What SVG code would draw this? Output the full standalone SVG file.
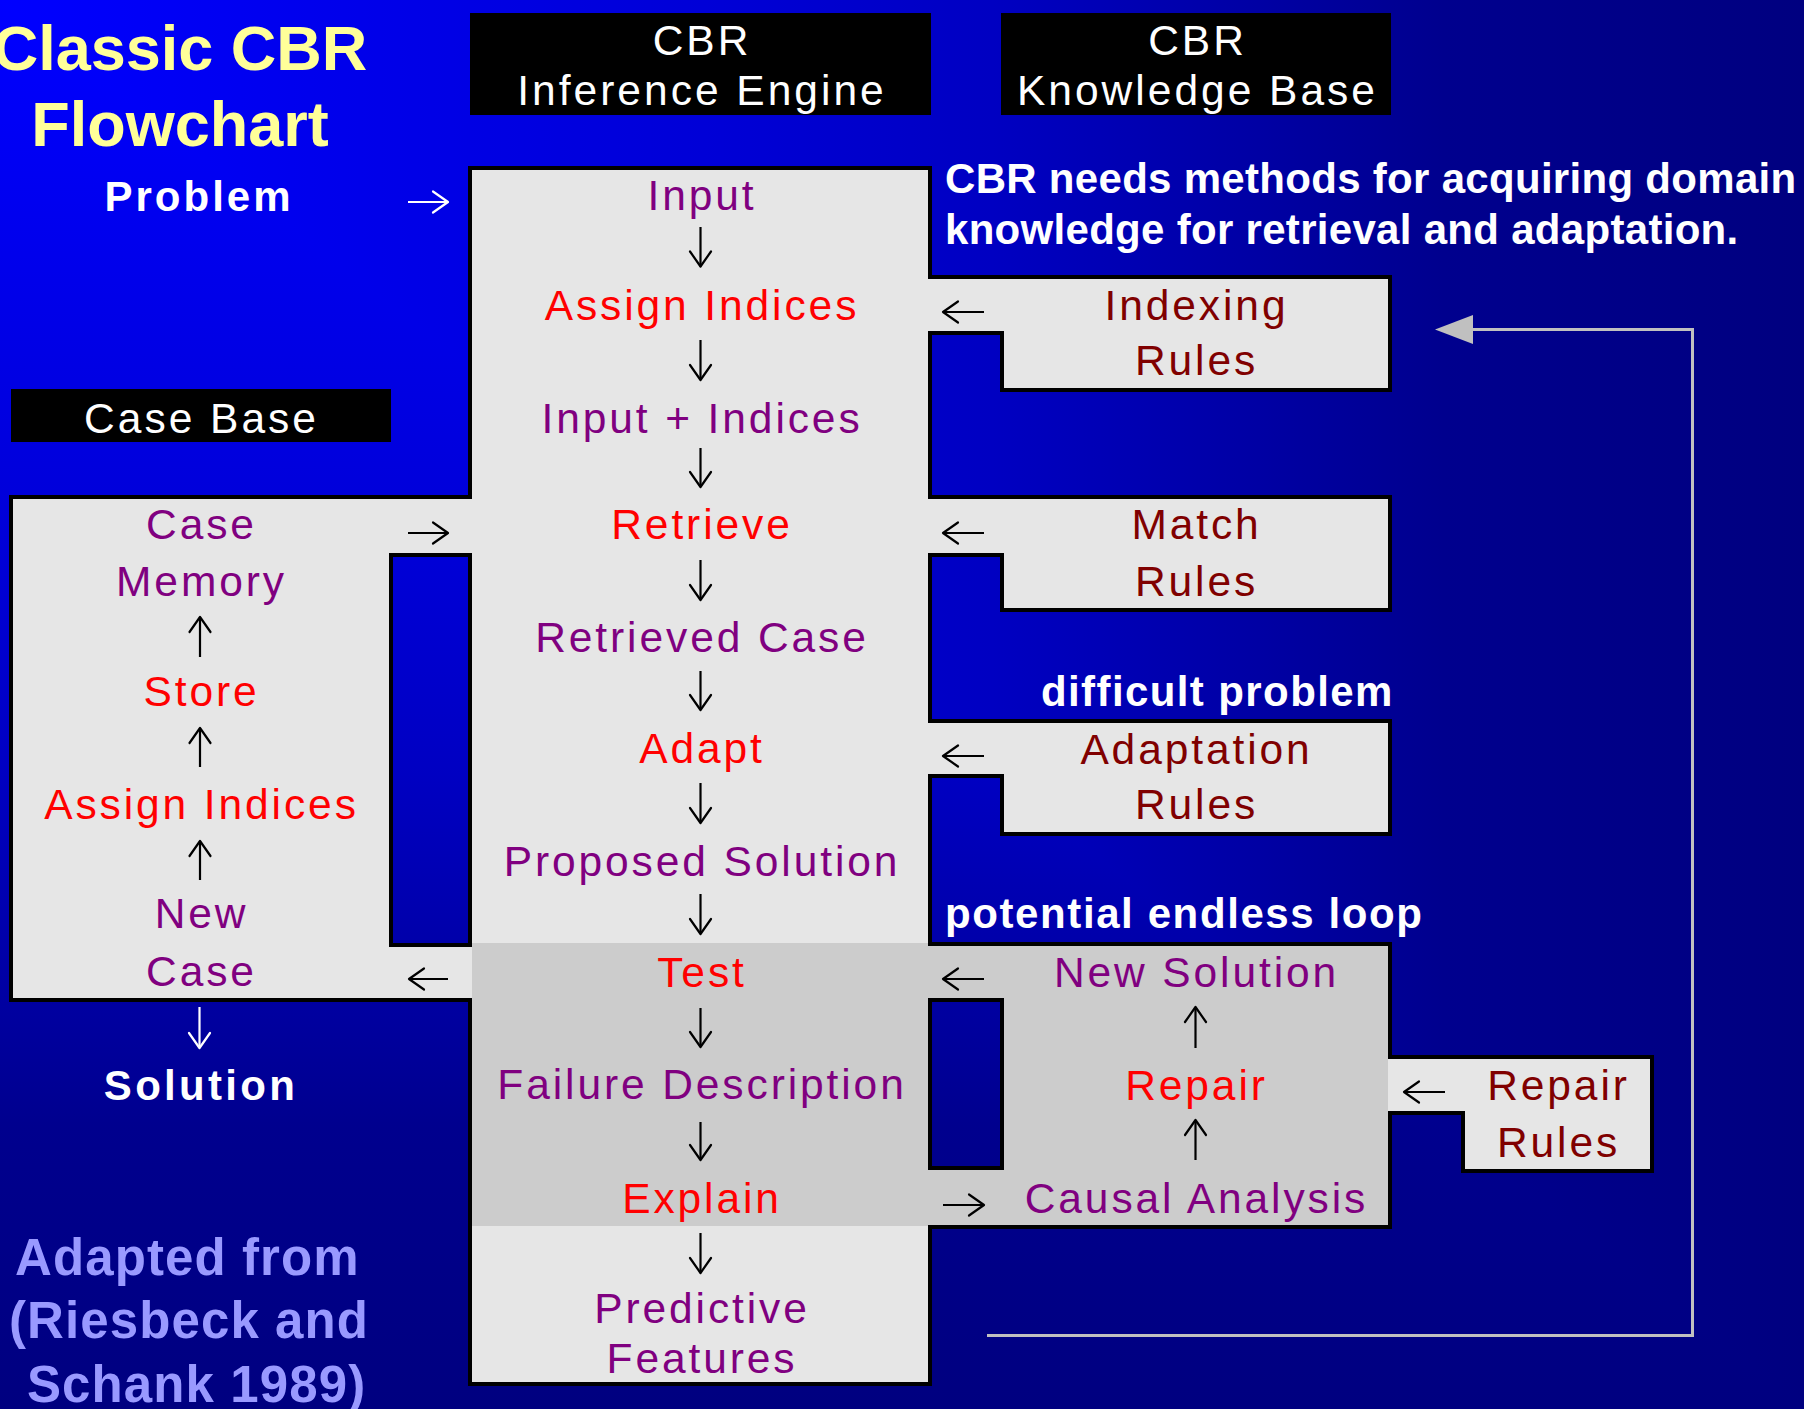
<svg xmlns="http://www.w3.org/2000/svg" width="1804" height="1409" viewBox="0 0 1804 1409">
<defs>
<linearGradient id="bgv" gradientUnits="userSpaceOnUse" x1="0" y1="0" x2="0" y2="1409">
<stop offset="0" stop-color="#0000FF"/>
<stop offset="0.2" stop-color="#0000EA"/>
<stop offset="0.4" stop-color="#0000D6"/>
<stop offset="0.55" stop-color="#0000C2"/>
<stop offset="0.65" stop-color="#0000AE"/>
<stop offset="0.8" stop-color="#00008E"/>
<stop offset="1" stop-color="#000080"/>
</linearGradient>
<linearGradient id="bgh" gradientUnits="userSpaceOnUse" x1="0" y1="0" x2="1804" y2="0">
<stop offset="0" stop-color="#0000FF"/>
<stop offset="0.2" stop-color="#0000EA"/>
<stop offset="0.4" stop-color="#0000D6"/>
<stop offset="0.55" stop-color="#0000C2"/>
<stop offset="0.65" stop-color="#0000AE"/>
<stop offset="0.8" stop-color="#00008E"/>
<stop offset="1" stop-color="#000080"/>
</linearGradient>
<marker id="ah" markerUnits="userSpaceOnUse" orient="auto" markerWidth="24" markerHeight="28" viewBox="-19 -14 24 28" refX="0" refY="0" overflow="visible">
<path d="M-15,-10.5 L0,0 L-15,10.5" fill="none" stroke="#000" stroke-width="2.2" stroke-linejoin="round" stroke-linecap="round"/>
</marker>
<marker id="ahw" markerUnits="userSpaceOnUse" orient="auto" markerWidth="24" markerHeight="28" viewBox="-19 -14 24 28" refX="0" refY="0" overflow="visible">
<path d="M-15,-10.5 L0,0 L-15,10.5" fill="none" stroke="#FFF" stroke-width="2.2" stroke-linejoin="round" stroke-linecap="round"/>
</marker>
<style>
text { font-family: "Liberation Sans", Arial, Helvetica, sans-serif; }
.bx { stroke: #000; stroke-width: 4; }
.lg { fill: #E6E6E6; }
.dg { fill: #CCCCCC; }
.hdbox { fill: #000; }
.t40 { font-size: 42.5px; letter-spacing: 2.9px; text-anchor: middle; }
.pu { fill: #800080; }
.rd { fill: #FF0000; }
.mr { fill: #800000; }
.hd { font-size: 42.5px; letter-spacing: 3px; fill: #FFF; text-anchor: middle; }
.wb { font-weight: bold; fill: #FFF; font-size: 42px; }
.ttl { font-weight: bold; fill: #FFFF99; font-size: 63px; text-anchor: middle; }
.src { font-weight: bold; fill: #9999FF; font-size: 51px; letter-spacing: 1.1px; }
.ar { fill: none; stroke: #000; stroke-width: 2.2; marker-end: url(#ah); }
.arw { fill: none; stroke: #FFF; stroke-width: 2.2; marker-end: url(#ahw); }
.fb { fill: none; stroke: #C0C0C0; stroke-width: 3; }
</style>
</defs>

<g id="background">
<rect x="0" y="0" width="1804" height="1409" fill="url(#bgv)"/>
<polygon points="0,0 1804,0 1804,1409" fill="url(#bgh)"/>
</g>

<g id="title">
<text class="ttl" x="180" y="70">Classic CBR</text>
<text class="ttl" x="180" y="146">Flowchart</text>
</g>

<g id="header-inference-engine">
<rect class="hdbox" x="470" y="13" width="461" height="102"/>
<text class="hd" x="702" y="55">CBR</text>
<text class="hd" x="702" y="105">Inference Engine</text>
</g>

<g id="header-knowledge-base">
<rect class="hdbox" x="1001" y="13" width="390" height="102"/>
<text class="hd" x="1197.5" y="55">CBR</text>
<text class="hd" x="1197.5" y="105">Knowledge Base</text>
</g>

<g id="header-case-base">
<rect class="hdbox" x="11" y="389" width="380" height="53"/>
<text class="hd" x="201.5" y="433">Case Base</text>
</g>

<g id="problem">
<text class="wb" x="199" y="211" text-anchor="middle" style="letter-spacing:3px">Problem</text>
</g>

<g id="solution">
<text class="wb" x="201" y="1100" text-anchor="middle" style="letter-spacing:3.3px">Solution</text>
</g>

<g id="note-knowledge">
<text class="wb" x="945" y="193" style="letter-spacing:0.3px">CBR needs methods for acquiring domain</text>
<text class="wb" x="945" y="244" style="letter-spacing:0.3px">knowledge for retrieval and adaptation.</text>
</g>

<g id="note-difficult">
<text class="wb" x="1041" y="706" style="letter-spacing:1.4px">difficult problem</text>
</g>

<g id="note-loop">
<text class="wb" x="945" y="928" style="letter-spacing:1.6px">potential endless loop</text>
</g>

<g id="source">
<text class="src" x="15" y="1275">Adapted from</text>
<text class="src" x="9" y="1338">(Riesbeck and</text>
<text class="src" x="27" y="1402">Schank 1989)</text>
</g>

<g id="inference-engine">
<rect class="bx lg" x="470" y="168" width="460" height="1216"/>
<rect class="dg" x="472" y="943" width="456" height="283"/>
<g id="step-input"><text class="t40 pu" x="702" y="210">Input</text></g>
<g id="step-assign-indices"><text class="t40 rd" x="702" y="320">Assign Indices</text></g>
<g id="step-input-indices"><text class="t40 pu" x="702" y="433">Input + Indices</text></g>
<g id="step-retrieve"><text class="t40 rd" x="702" y="539">Retrieve</text></g>
<g id="step-retrieved-case"><text class="t40 pu" x="702" y="652">Retrieved Case</text></g>
<g id="step-adapt"><text class="t40 rd" x="702" y="763">Adapt</text></g>
<g id="step-proposed-solution"><text class="t40 pu" x="702" y="876">Proposed Solution</text></g>
<g id="step-test"><text class="t40 rd" x="702" y="987">Test</text></g>
<g id="step-failure-description"><text class="t40 pu" x="702" y="1099">Failure Description</text></g>
<g id="step-explain"><text class="t40 rd" x="702" y="1213">Explain</text></g>
<g id="step-predictive-features"><text class="t40 pu" x="702" y="1323">Predictive</text><text class="t40 pu" x="702" y="1373">Features</text></g>
</g>

<g id="case-memory">
<rect class="bx lg" x="11" y="497" width="380" height="503"/>
<rect class="bx lg" x="391" y="497" width="79" height="58"/>
<rect class="lg" x="389" y="499" width="83" height="54"/>
<rect class="bx lg" x="391" y="945" width="79" height="55"/>
<rect class="lg" x="389" y="947" width="83" height="51"/>
<g id="cm-case-memory"><text class="t40 pu" x="201.5" y="539">Case</text><text class="t40 pu" x="201.5" y="596">Memory</text></g>
<g id="cm-store"><text class="t40 rd" x="201.5" y="706">Store</text></g>
<g id="cm-assign-indices"><text class="t40 rd" x="201.5" y="819">Assign Indices</text></g>
<g id="cm-new-case"><text class="t40 pu" x="201.5" y="928">New</text><text class="t40 pu" x="201.5" y="986">Case</text></g>
</g>

<g id="indexing-rules">
<rect class="bx lg" x="1002" y="277" width="388" height="113"/>
<rect class="bx lg" x="930" y="277" width="72" height="56"/>
<rect class="lg" x="928" y="279" width="76" height="52"/>
<text class="t40 mr" x="1196.5" y="320">Indexing</text>
<text class="t40 mr" x="1196.5" y="375">Rules</text>
</g>

<g id="match-rules">
<rect class="bx lg" x="1002" y="497" width="388" height="113"/>
<rect class="bx lg" x="930" y="497" width="72" height="58"/>
<rect class="lg" x="928" y="499" width="76" height="54"/>
<text class="t40 mr" x="1196.5" y="539">Match</text>
<text class="t40 mr" x="1196.5" y="596">Rules</text>
</g>

<g id="adaptation-rules">
<rect class="bx lg" x="1002" y="721" width="388" height="113"/>
<rect class="bx lg" x="930" y="721" width="72" height="55"/>
<rect class="lg" x="928" y="723" width="76" height="51"/>
<text class="t40 mr" x="1196.5" y="764">Adaptation</text>
<text class="t40 mr" x="1196.5" y="819">Rules</text>
</g>

<g id="repair-loop">
<rect class="bx dg" x="1002" y="944" width="388" height="283"/>
<rect class="bx dg" x="930" y="944" width="72" height="56"/>
<rect class="dg" x="928" y="946" width="76" height="52"/>
<rect class="bx dg" x="930" y="1168" width="72" height="59"/>
<rect class="dg" x="928" y="1170" width="76" height="55"/>
<g id="rl-new-solution"><text class="t40 pu" x="1196.5" y="987">New Solution</text></g>
<g id="rl-repair"><text class="t40 rd" x="1196.5" y="1100">Repair</text></g>
<g id="rl-causal-analysis"><text class="t40 pu" x="1196.5" y="1213">Causal Analysis</text></g>
</g>

<g id="repair-rules">
<rect class="bx lg" x="1463" y="1057" width="189" height="114"/>
<rect class="bx lg" x="1390" y="1057" width="73" height="56"/>
<rect class="lg" x="1388" y="1059" width="77" height="52"/>
<text class="t40 mr" x="1558.5" y="1100">Repair</text>
<text class="t40 mr" x="1558.5" y="1157">Rules</text>
</g>

<g id="connectors">
<path class="arw" d="M408,202 H448"/>
<path class="ar" d="M700.5,227 V266.5"/>
<path class="ar" d="M700.5,340 V380"/>
<path class="ar" d="M700.5,448 V487"/>
<path class="ar" d="M700.5,560 V600"/>
<path class="ar" d="M700.5,671 V710"/>
<path class="ar" d="M700.5,783 V823"/>
<path class="ar" d="M700.5,894 V934"/>
<path class="ar" d="M700.5,1008 V1047"/>
<path class="ar" d="M700.5,1122 V1160"/>
<path class="ar" d="M700.5,1233 V1273"/>
<path class="ar" d="M200,657 V617"/>
<path class="ar" d="M200,767 V728"/>
<path class="ar" d="M200,880 V841"/>
<path class="arw" d="M199.5,1007 V1048"/>
<path class="ar" d="M408,533 H448"/>
<path class="ar" d="M448,979 H409"/>
<path class="ar" d="M984,312 H943"/>
<path class="ar" d="M984,533 H943"/>
<path class="ar" d="M984,756 H943"/>
<path class="ar" d="M984,979 H943"/>
<path class="ar" d="M943,1205 H984"/>
<path class="ar" d="M1195.5,1048 V1007"/>
<path class="ar" d="M1195.5,1160 V1120"/>
<path class="ar" d="M1445,1092 H1404"/>
<path class="fb" d="M987,1335.5 H1692.5 V329.5 H1470"/>
<polygon points="1435,329.5 1473,315 1473,344" fill="#C0C0C0"/>
</g>
</svg>
